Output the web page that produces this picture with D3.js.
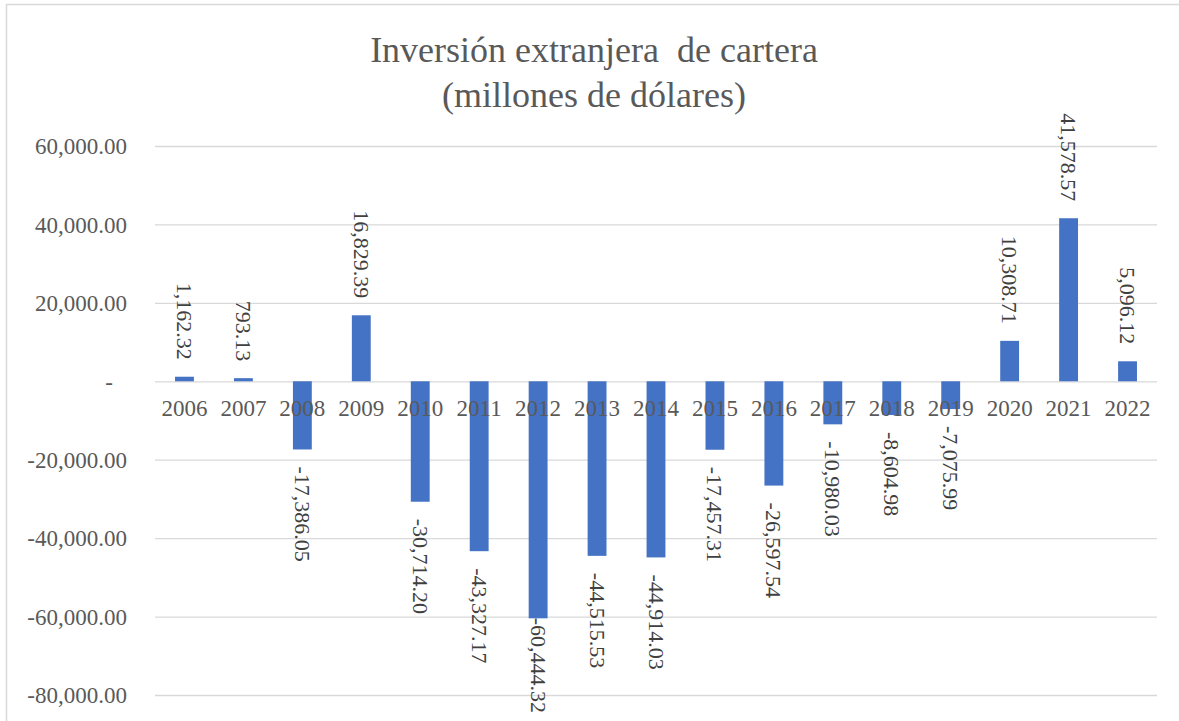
<!DOCTYPE html>
<html>
<head>
<meta charset="utf-8">
<script src="https://cdn.jsdelivr.net/npm/d3@7"></script>
<style>
  html, body { margin: 0; padding: 0; background: #fff; }
  svg { display: block; }
  text { font-family: "Liberation Serif", "Times New Roman", serif; }
</style>
</head>
<body>
<svg id="chart" width="1179" height="721"></svg>
<script>
const titleLines = ["Inversión extranjera  de cartera", "(millones de dólares)"];
const years = ["2006","2007","2008","2009","2010","2011","2012","2013","2014","2015","2016","2017","2018","2019","2020","2021","2022"];
const values = [1162.32, 793.13, -17386.05, 16829.39, -30714.20, -43327.17, -60444.32, -44515.53, -44914.03, -17457.31, -26597.54, -10980.03, -8604.98, -7075.99, 10308.71, 41578.57, 5096.12];
const yTicks = [60000, 40000, 20000, 0, -20000, -40000, -60000, -80000];

const W = 1179, H = 721;
const svg = d3.select("#chart");
const locale = d3.formatLocale({decimal: ".", thousands: ",", grouping: [3], currency: ["$", ""], minus: "-"});
const fmt = locale.format(",.2f");

// frame
svg.append("rect").attr("x", 6.5).attr("y", 4.5).attr("width", 1300).attr("height", 900)
  .attr("fill", "none").attr("stroke", "#d9d9d9").attr("stroke-width", 1.5);

const x = d3.scaleBand().domain(years).range([155, 1157]).paddingInner(0.68).paddingOuter(0.34);
const y = d3.scaleLinear().domain([-80000, 60000]).range([695, 146]);

// title
const title = svg.append("text").attr("x", 594).attr("y", 62)
  .attr("text-anchor", "middle").attr("fill", "#595959")
  .style("font-size", "36px").style("white-space", "pre");
titleLines.forEach((t, i) => {
  title.append("tspan").attr("x", 594).attr("dy", i === 0 ? 0 : 45).text(t);
});

// gridlines + y axis labels
const yAxis = d3.axisLeft(y).tickValues(yTicks).tickSize(-(1157 - 155)).tickPadding(28)
  .tickFormat(d => d === 0 ? "-" : fmt(d));
const gy = svg.append("g").attr("transform", "translate(155,0)").call(yAxis);
gy.select(".domain").remove();
gy.selectAll(".tick line").attr("stroke", "#d9d9d9").attr("stroke-width", 1.3);
gy.selectAll(".tick text").attr("fill", "#595959").style("font-size", "23px")
  .attr("dy", "0.34em")
  .attr("x", d => d === 0 ? -42 : -28);

// bars
svg.append("g").selectAll("rect").data(values).join("rect")
  .attr("x", (d, i) => x(years[i]))
  .attr("width", x.bandwidth())
  .attr("y", d => y(Math.max(0, d)))
  .attr("height", d => Math.abs(y(d) - y(0)))
  .attr("fill", "#4472c4");

// category labels
const gx = svg.append("g").attr("transform", `translate(0,${y(0)})`)
  .call(d3.axisBottom(x).tickSize(0).tickPadding(0));
gx.select(".domain").remove();
gx.selectAll(".tick text").attr("fill", "#595959").style("font-size", "23px")
  .attr("y", 35).attr("dy", 0);

// data labels (rotated 90deg clockwise)
const labels = svg.append("g").selectAll("text").data(values).join("text")
  .attr("fill", "#404040").style("font-size", "22px")
  .attr("dominant-baseline", "central")
  .text(d => fmt(d));
labels.each(function(d, i) {
  const len = this.getComputedTextLength();
  const cx = x(years[i]) + x.bandwidth() / 2;
  let start;
  if (d >= 0) {
    start = y(d) - 17 - len;
  } else {
    start = Math.min(y(d) + 17, 713 - len);
  }
  d3.select(this).attr("transform", `translate(${cx},${start}) rotate(90)`)
    .attr("x", 0).attr("y", 0).attr("text-anchor", "start");
});
</script>
</body>
</html>
